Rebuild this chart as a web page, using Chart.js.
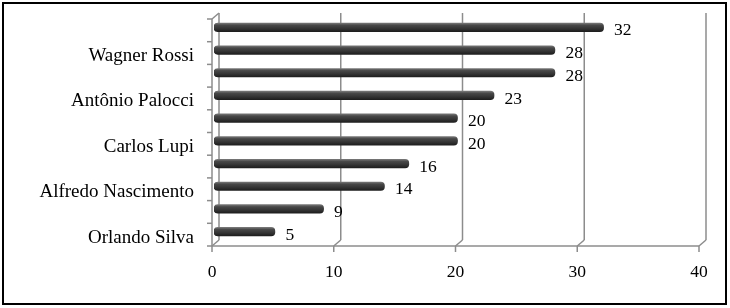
<!DOCTYPE html>
<html><head><meta charset="utf-8">
<script src="https://cdn.jsdelivr.net/npm/chart.js@4/dist/chart.umd.min.js"></script>
<style>html,body{margin:0;padding:0;background:#fff;}#wrap{position:relative;width:730px;height:308px;}</style>
</head><body><div id="wrap"><canvas id="c" width="730" height="308"></canvas></div>
<script>
const categories = ["", "Wagner Rossi", "", "Antônio Palocci", "", "Carlos Lupi", "", "Alfredo Nascimento", "", "Orlando Silva"];
const values = [32, 28, 28, 23, 20, 20, 16, 14, 9, 5];
const xTicks = [0, 10, 20, 30, 40];

const FX = -2, FY = 3, BX = 5, BY = -3;
const SERIF = '"Liberation Serif", "Times New Roman", serif';

const frame = {
  id: 'frame',
  beforeDatasetsDraw(chart) {
    const { ctx, scales: { x, y } } = chart;
    const n = categories.length;
    const band = (y.bottom - y.top) / n;
    const top = y.top, bot = y.bottom;
    const x0 = x.getPixelForValue(xTicks[0]);
    const x1 = x.getPixelForValue(xTicks[xTicks.length - 1]);
    const line = (a, b, c, d) => { ctx.beginPath(); ctx.moveTo(a, b); ctx.lineTo(c, d); ctx.stroke(); };
    ctx.save();
    ctx.strokeStyle = '#8c8c8c';
    ctx.lineWidth = 1.5;
    xTicks.forEach(v => {
      const px = x.getPixelForValue(v);
      line(px + BX, top + BY, px + BX, bot + BY);
      line(px + FX, bot + FY, px + BX, bot + BY);
      line(px + FX, bot + FY, px + FX, bot + FY + 6);
    });
    line(x0 + FX, bot + FY, x1 + FX, bot + FY);
    line(x0 + FX, top + FY, x0 + FX, bot + FY);
    line(x0 + FX, top + FY, x0 + BX, top + BY);
    for (let i = 0; i <= n; i++) {
      const yy = top + i * band + FY;
      line(x0 + FX - 5, yy, x0 + FX, yy);
    }
    ctx.restore();
  },
  afterDatasetsDraw(chart) {
    const { ctx } = chart;
    const meta = chart.getDatasetMeta(0);
    ctx.save();
    ctx.fillStyle = '#000';
    ctx.font = '17.5px ' + SERIF;
    ctx.textAlign = 'left';
    ctx.textBaseline = 'middle';
    meta.data.forEach((el, i) => {
      ctx.fillText(String(values[i]), el.x + 10.5, el.y + 3.5);
    });
    ctx.restore();
  },
  afterDraw(chart) {
    const { ctx } = chart;
    ctx.save();
    ctx.strokeStyle = '#000';
    ctx.lineWidth = 2;
    ctx.strokeRect(3, 3, 723, 301);
    ctx.restore();
  }
};

new Chart(document.getElementById('c'), {
  type: 'bar',
  data: {
    labels: categories,
    datasets: [{
      data: values,
      barThickness: 8.5,
      borderRadius: 4,
      borderSkipped: false,
      backgroundColor: (ctx) => {
        const chart = ctx.chart;
        const ys = chart.scales.y;
        if (!ys || ctx.dataIndex === undefined) return '#3c3c3c';
        const cy = ys.getPixelForValue(ctx.dataIndex);
        if (!isFinite(cy)) return '#3c3c3c';
        const g = chart.ctx.createLinearGradient(0, cy - 4.25, 0, cy + 4.25);
        g.addColorStop(0, '#777777');
        g.addColorStop(0.25, '#484848');
        g.addColorStop(0.6, '#363636');
        g.addColorStop(1, '#1e1e1e');
        return g;
      }
    }]
  },
  options: {
    indexAxis: 'y',
    responsive: false,
    devicePixelRatio: 1,
    animation: false,
    layout: { padding: { top: 16, right: 29, left: 0, bottom: 0 } },
    plugins: { legend: { display: false }, tooltip: { enabled: false } },
    scales: {
      x: {
        type: 'linear', min: 0, max: 40,
        afterBuildTicks: (s) => { s.ticks = xTicks.map(v => ({ value: v })); },
        afterFit: (s) => { s.height = 65; s.paddingLeft = 0; s.paddingRight = 0; },
        grid: { display: false, drawTicks: false },
        border: { display: false },
        ticks: { padding: 19, labelOffset: -2, color: '#000', font: { family: SERIF, size: 17.5 } }
      },
      y: {
        type: 'category',
        afterFit: (s) => { s.width = 214; s.paddingTop = 0; s.paddingBottom = 0; },
        grid: { display: false, drawTicks: false },
        border: { display: false },
        ticks: { autoSkip: false, padding: 20, labelOffset: 6, color: '#000', font: { family: SERIF, size: 19 } }
      }
    }
  },
  plugins: [frame]
});
</script>
</body></html>
